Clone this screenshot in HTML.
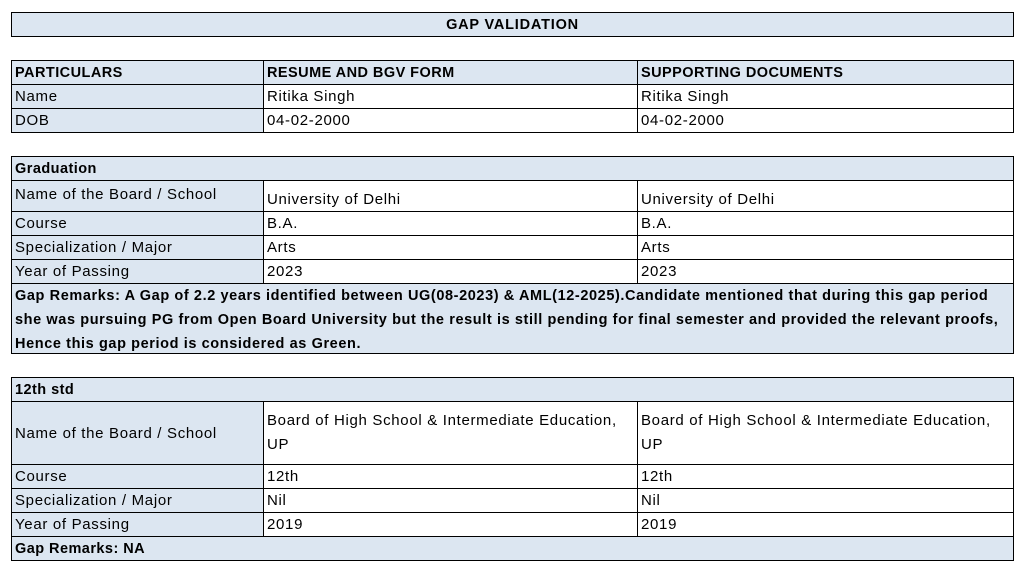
<!DOCTYPE html>
<html><head><meta charset="utf-8"><style>
body{margin:0;width:1026px;height:567px;background:#fff;position:relative;font-family:"Liberation Sans",Arial,sans-serif;font-size:15px;letter-spacing:0.68px;color:#000;overflow:hidden}
.c{position:absolute;box-sizing:border-box;border:1px solid #000;padding:0 3px;white-space:nowrap;display:flex;align-items:center;overflow:hidden}
.b{background:#dce6f1}
.h{font-weight:bold;font-size:14.5px;letter-spacing:0.45px}
.r{display:block;padding-top:0;line-height:24px;font-weight:bold;font-size:14.5px;letter-spacing:0.6px}
.t{display:block;padding-top:7px;line-height:24px}
</style></head><body>
<div class="c b h" style="left:11px;top:12px;width:1003px;height:25px;justify-content:center;letter-spacing:0.8px">GAP VALIDATION</div>

<div class="c b h" style="left:11px;top:60px;width:253px;height:25px">PARTICULARS</div>
<div class="c b h" style="left:263px;top:60px;width:375px;height:25px">RESUME AND BGV FORM</div>
<div class="c b h" style="left:637px;top:60px;width:377px;height:25px">SUPPORTING DOCUMENTS</div>
<div class="c b" style="left:11px;top:84px;width:253px;height:25px">Name</div>
<div class="c" style="left:263px;top:84px;width:375px;height:25px">Ritika Singh</div>
<div class="c" style="left:637px;top:84px;width:377px;height:25px">Ritika Singh</div>
<div class="c b" style="left:11px;top:108px;width:253px;height:25px">DOB</div>
<div class="c" style="left:263px;top:108px;width:375px;height:25px">04-02-2000</div>
<div class="c" style="left:637px;top:108px;width:377px;height:25px">04-02-2000</div>

<div class="c b h" style="left:11px;top:156px;width:1003px;height:25px">Graduation</div>
<div class="c b" style="left:11px;top:180px;width:253px;height:32px;align-items:flex-start;padding-top:5px">Name of the Board / School</div>
<div class="c" style="left:263px;top:180px;width:375px;height:32px;align-items:flex-end;padding-bottom:3px">University of Delhi</div>
<div class="c" style="left:637px;top:180px;width:377px;height:32px;align-items:flex-end;padding-bottom:3px">University of Delhi</div>
<div class="c b" style="left:11px;top:211px;width:253px;height:25px">Course</div>
<div class="c" style="left:263px;top:211px;width:375px;height:25px">B.A.</div>
<div class="c" style="left:637px;top:211px;width:377px;height:25px">B.A.</div>
<div class="c b" style="left:11px;top:235px;width:253px;height:25px">Specialization / Major</div>
<div class="c" style="left:263px;top:235px;width:375px;height:25px">Arts</div>
<div class="c" style="left:637px;top:235px;width:377px;height:25px">Arts</div>
<div class="c b" style="left:11px;top:259px;width:253px;height:25px">Year of Passing</div>
<div class="c" style="left:263px;top:259px;width:375px;height:25px">2023</div>
<div class="c" style="left:637px;top:259px;width:377px;height:25px">2023</div>
<div class="c b r" style="left:11px;top:283px;width:1003px;height:71px">Gap Remarks: A Gap of 2.2 years identified between UG(08-2023) &amp; AML(12-2025).Candidate mentioned that during this gap period<br>she was pursuing PG from Open Board University but the result is still pending for final semester and provided the relevant proofs,<br>Hence this gap period is considered as Green.</div>

<div class="c b h" style="left:11px;top:377px;width:1003px;height:25px">12th std</div>
<div class="c b" style="left:11px;top:401px;width:253px;height:64px">Name of the Board / School</div>
<div class="c t" style="left:263px;top:401px;width:375px;height:64px">Board of High School &amp; Intermediate Education,<br>UP</div>
<div class="c t" style="left:637px;top:401px;width:377px;height:64px">Board of High School &amp; Intermediate Education,<br>UP</div>
<div class="c b" style="left:11px;top:464px;width:253px;height:25px">Course</div>
<div class="c" style="left:263px;top:464px;width:375px;height:25px">12th</div>
<div class="c" style="left:637px;top:464px;width:377px;height:25px">12th</div>
<div class="c b" style="left:11px;top:488px;width:253px;height:25px">Specialization / Major</div>
<div class="c" style="left:263px;top:488px;width:375px;height:25px">Nil</div>
<div class="c" style="left:637px;top:488px;width:377px;height:25px">Nil</div>
<div class="c b" style="left:11px;top:512px;width:253px;height:25px">Year of Passing</div>
<div class="c" style="left:263px;top:512px;width:375px;height:25px">2019</div>
<div class="c" style="left:637px;top:512px;width:377px;height:25px">2019</div>
<div class="c b h" style="left:11px;top:536px;width:1003px;height:25px">Gap Remarks: NA</div>
</body></html>
